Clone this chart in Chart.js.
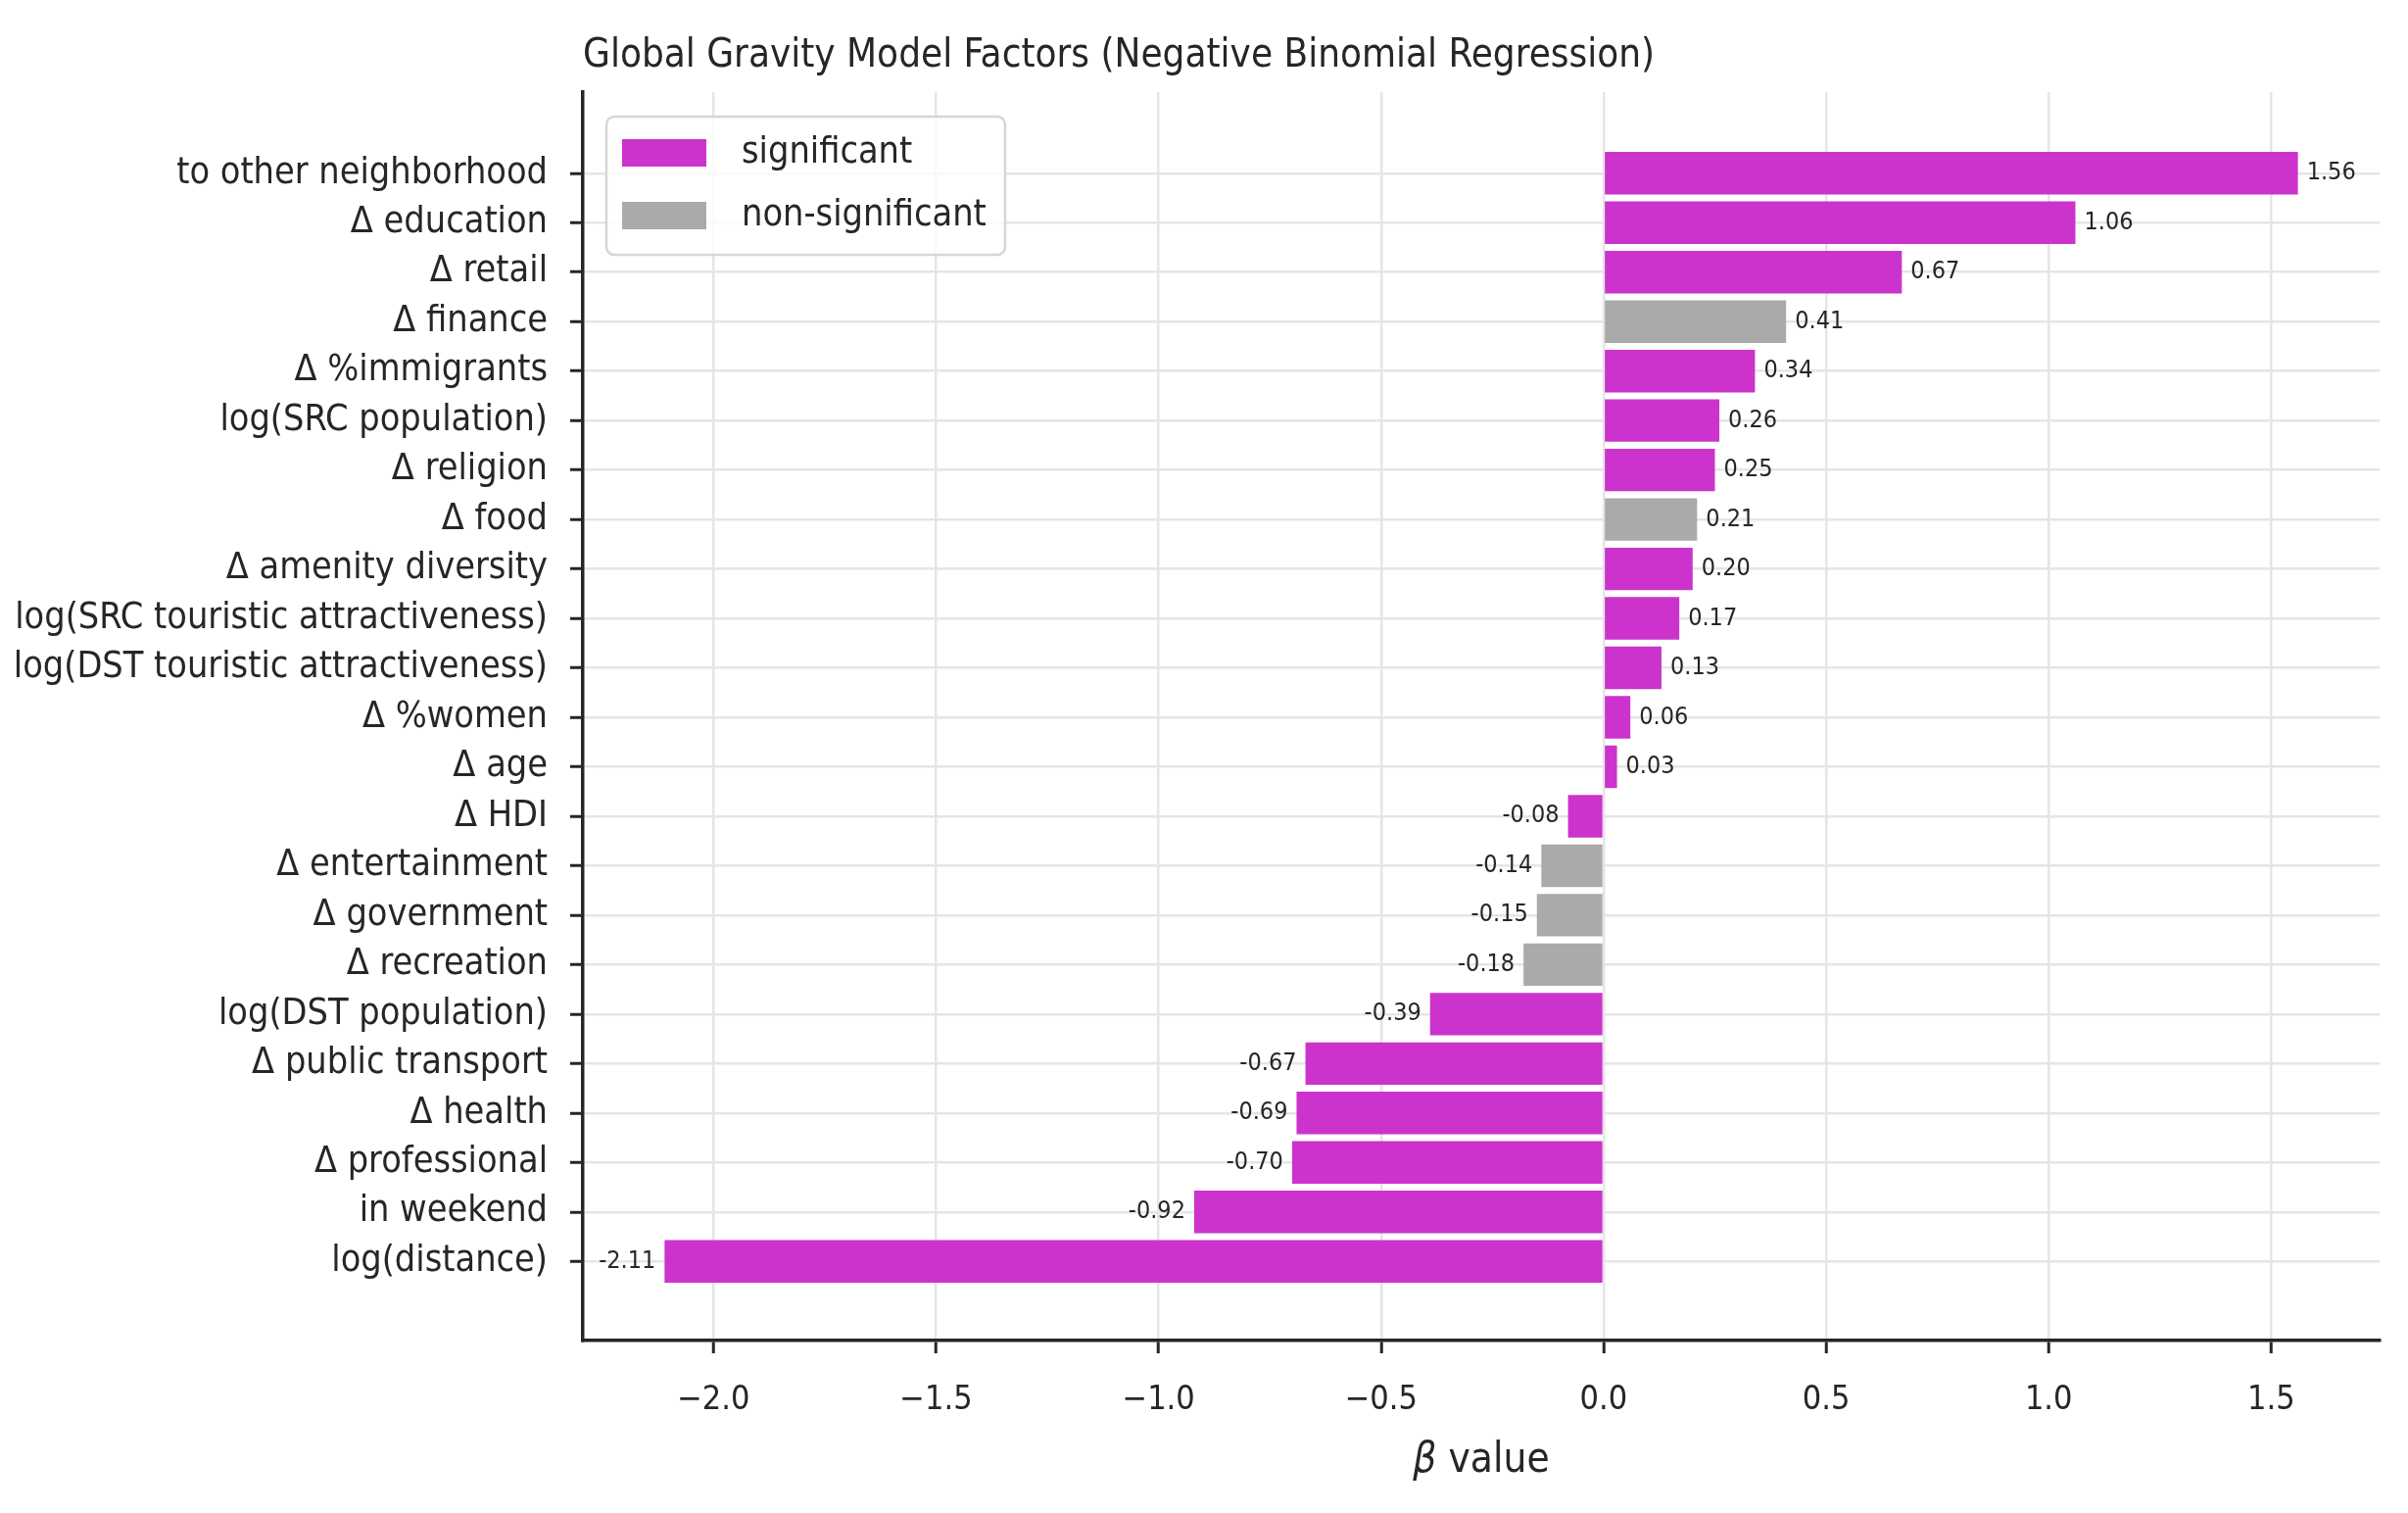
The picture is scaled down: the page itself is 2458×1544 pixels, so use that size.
<!DOCTYPE html>
<html>
<head>
<meta charset="utf-8">
<script src="https://cdn.jsdelivr.net/npm/chart.js@4.4.1/dist/chart.umd.min.js"></script>
<style>
  html, body { margin: 0; padding: 0; background: #ffffff; }
  #wrap { width: 2458px; height: 1544px; }
</style>
</head>
<body>
<div id="wrap"><canvas id="graphique" width="2458" height="1544"></canvas></div>
<script>
// facteurs du modele (haut -> bas)
var facteurs = [
    "to other neighborhood", "\u0394 education", "\u0394 retail", "\u0394 finance",
    "\u0394 %immigrants", "log(SRC population)", "\u0394 religion", "\u0394 food",
    "\u0394 amenity diversity", "log(SRC touristic attractiveness)",
    "log(DST touristic attractiveness)", "\u0394 %women", "\u0394 age", "\u0394 HDI",
    "\u0394 entertainment", "\u0394 government", "\u0394 recreation", "log(DST population)",
    "\u0394 public transport", "\u0394 health", "\u0394 professional", "in weekend", "log(distance)"
];
var valeursBeta = [
    1.56, 1.06, 0.67, 0.41, 0.34, 0.26, 0.25, 0.21, 0.20, 0.17, 0.13, 0.06, 0.03,
    -0.08, -0.14, -0.15, -0.18, -0.39, -0.67, -0.69, -0.70, -0.92, -2.11
];
var significatif = [
    true, true, true, false, true, true, true, false, true, true, true, true, true,
    true, false, false, false, true, true, true, true, true, true
];
var ticksX = [-2.0, -1.5, -1.0, -0.5, 0.0, 0.5, 1.0, 1.5];
var legendeNoms = ["significant", "non-significant"];

var couleurSig = "#cc33cc";
var couleurNonSig = "#aaaaaa";
var police = "'Liberation Sans Narrow', 'DejaVu Sans Condensed', 'Roboto Condensed', 'Open Sans', sans-serif";
var encre = "#262626";

var pointsBarres = [];
var couleursBarres = [];
for (let i = 0; i < valeursBeta.length; i++) {
    pointsBarres.push({ x: valeursBeta[i], y: i });
    couleursBarres.push(significatif[i] ? couleurSig : couleurNonSig);
}

var titreEtLegende = {
    id: "titreEtLegende",
    afterDraw: function(chart) {
        var ctx = chart.ctx;
        var zone = chart.chartArea;
        ctx.save();
        // titre
        ctx.fillStyle = encre;
        ctx.font = "40px " + police;
        ctx.textAlign = "left";
        ctx.textBaseline = "middle";
        ctx.fillText("Global Gravity Model Factors (Negative Binomial Regression)", zone.left, 58);

        // legende
        var bx = zone.left + 24, by = zone.top + 25, bw = 407, bh = 141, r = 8;
        ctx.beginPath();
        ctx.moveTo(bx + r, by);
        ctx.arcTo(bx + bw, by, bx + bw, by + bh, r);
        ctx.arcTo(bx + bw, by + bh, bx, by + bh, r);
        ctx.arcTo(bx, by + bh, bx, by, r);
        ctx.arcTo(bx, by, bx + bw, by, r);
        ctx.closePath();
        ctx.fillStyle = "rgba(255,255,255,0.8)";
        ctx.fill();
        ctx.strokeStyle = "#d6d6d6";
        ctx.lineWidth = 2.5;
        ctx.stroke();
        var couleursLeg = [couleurSig, couleurNonSig];
        for (let i = 0; i < legendeNoms.length; i++) {
            var yy = by + 37 + i * 64;
            ctx.fillStyle = couleursLeg[i];
            ctx.fillRect(bx + 16, yy - 14, 86, 28);
            ctx.fillStyle = encre;
            ctx.font = "37.5px " + police;
            ctx.fillText(legendeNoms[i], bx + 138, yy);
        }

        // titre axe x
        var cx = (zone.left + zone.right) / 2;
        ctx.font = "italic 42px " + police;
        var wBeta = ctx.measureText("\u03b2").width;
        ctx.font = "42px " + police;
        var wReste = ctx.measureText(" value").width;
        var x0 = cx - (wBeta + wReste) / 2;
        ctx.font = "italic 42px " + police;
        ctx.fillText("\u03b2", x0, 1491);
        ctx.font = "42px " + police;
        ctx.fillText(" value", x0 + wBeta, 1491);
        ctx.restore();
    }
};

var etiquettesValeurs = {
    id: "etiquettesValeurs",
    afterDatasetsDraw: function(chart) {
        var ctx = chart.ctx;
        var meta = chart.getDatasetMeta(0);
        ctx.save();
        ctx.font = "25px " + police;
        ctx.fillStyle = encre;
        ctx.textBaseline = "middle";
        meta.data.forEach(function(barre, i) {
            var v = valeursBeta[i];
            var txt = v.toFixed(2);
            if (v >= 0) {
                ctx.textAlign = "left";
                ctx.fillText(txt, barre.x + 9, barre.y);
            } else {
                ctx.textAlign = "right";
                ctx.fillText(txt, barre.x - 9, barre.y);
            }
        });
        ctx.restore();
    }
};

var ctx = document.getElementById("graphique").getContext("2d");
var chart = new Chart(ctx, {
    type: "bar",
    data: {
        datasets: [{
            label: "beta",
            data: pointsBarres,
            backgroundColor: couleursBarres,
            borderWidth: 0,
            categoryPercentage: 1.0,
            barPercentage: 0.86
        }]
    },
    plugins: [etiquettesValeurs, titreEtLegende],
    options: {
        indexAxis: "y",
        responsive: false,
        animation: false,
        devicePixelRatio: 1,
        layout: { padding: { top: 94, right: 29, left: 0, bottom: 0 } },
        plugins: {
            legend: { display: false },
            title: { display: false },
            tooltip: { enabled: false }
        },
        scales: {
            x: {
                type: "linear",
                min: -2.2935,
                max: 1.7435,
                afterBuildTicks: function(scale) {
                    scale.ticks = ticksX.map(function(v) { return { value: v }; });
                },
                afterFit: function(scale) { scale.height = 176; },
                grid: { color: "#e5e5e5", lineWidth: 2.5, tickLength: 13, tickColor: encre, tickWidth: 3 },
                border: { display: true, color: encre, width: 3.5 },
                ticks: {
                    color: encre,
                    padding: 28,
                    font: { family: police, size: 34 },
                    callback: function(v) { return (v < 0 ? "\u2212" : "") + Math.abs(v).toFixed(1); }
                }
            },
            y: {
                type: "linear",
                reverse: true,
                offset: false,
                min: -1.64,
                max: 23.6,
                afterBuildTicks: function(scale) {
                    scale.ticks = facteurs.map(function(f, i) { return { value: i }; });
                },
                afterFit: function(scale) { scale.width = 595; },
                grid: { offset: false, color: "#e5e5e5", lineWidth: 2.5, tickLength: 13, tickColor: encre, tickWidth: 3 },
                border: { display: true, color: encre, width: 3.5 },
                ticks: {
                    color: encre,
                    padding: 23,
                    autoSkip: false,
                    font: { family: police, size: 37.5 },
                    callback: function(v) { return facteurs[v] !== undefined ? facteurs[v] : ""; }
                }
            }
        }
    }
});
</script>
</body>
</html>
